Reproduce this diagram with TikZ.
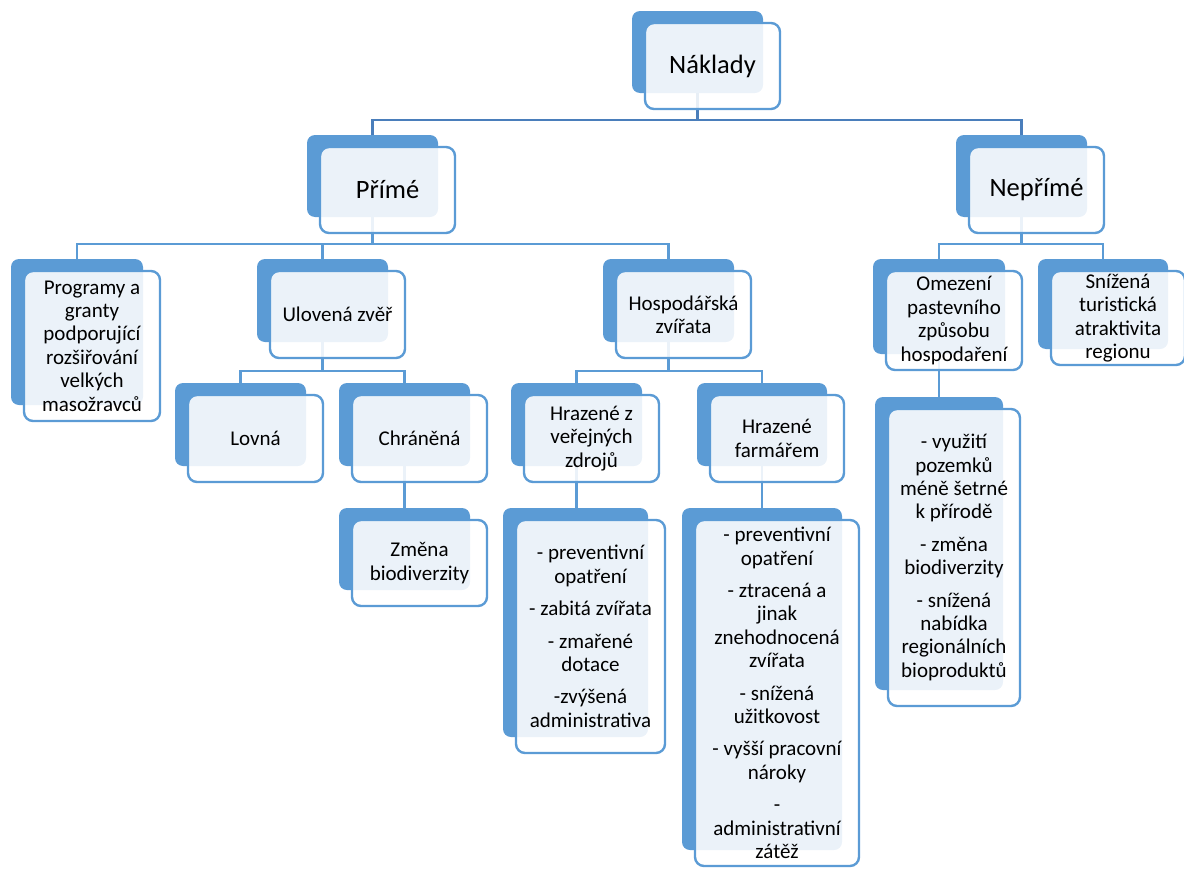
\documentclass[tikz,border=0pt]{standalone}
\usepackage{fontspec}
\setmainfont{Carlito}
\usetikzlibrary{calc,fit}
\definecolor{boxblue}{HTML}{5B9BD5}
\definecolor{linkblue}{HTML}{5B9BD5}
\definecolor{linkdark}{HTML}{4A7EBB}
\pgfdeclarelayer{backs}
\pgfdeclarelayer{links}
\pgfsetlayers{backs,links,main}
\tikzset{
  backbox/.style={rounded corners=8pt, fill=boxblue, inner sep=0pt},
  frontbox/.style={rounded corners=9pt, draw=boxblue, line width=2.4pt, fill=white,
    fill opacity=0.88, inner sep=0pt},
  smalltext/.style={inner sep=0pt, align=center, font=\fontsize{21}{23.4}\selectfont},
  bigtext/.style={inner sep=0pt, align=center, font=\fontsize{26.5}{30}\selectfont},
  link/.style={draw=linkblue, line width=2.4pt},
  toplink/.style={link, draw=linkdark},
}
% #1 text style, #2 name, #3 corner of dark box, #4 opposite corner, #5 text
\newcommand{\orgbox}[5][smalltext]{%
  \coordinate (#2-nw) at (#3);
  \coordinate (#2-se) at (#4);
  \begin{pgfonlayer}{backs}
    \node[backbox, fit=(#2-nw)(#2-se)] (#2-b) {};
  \end{pgfonlayer}
  \coordinate (#2-fnw) at ($(#2-nw)+(13,12)$);
  \coordinate (#2-fse) at ($(#2-se)+(17,16)$);
  \node[frontbox, fit=(#2-fnw)(#2-fse)] (#2) {};
  \node[#1] (#2-t) at (#2.center) {#5};
}
\begin{document}
\begin{tikzpicture}[x=1pt,y=-1pt]
\useasboundingbox (0,0) rectangle (1184,870);
% level 0
\orgbox[bigtext]{naklady}{632,11}{763,93}{Náklady}
% level 1
\orgbox[bigtext]{prime}{307,135}{438,217}{Přímé}
\orgbox[bigtext]{neprime}{956,135}{1087,217}{Nepřímé}
% level 2
\orgbox{programy}{11,259}{143,405}{Programy a\\granty\\podporující\\rozšiřování\\velkých\\masožravců}
\orgbox{ulovena}{257,259}{388,342}{Ulovená zvěř}
\orgbox{hospodarska}{603,259}{734,342}{Hospodářská\\zvířata}
\orgbox{omezeni}{873,259}{1005,354}{Omezení\\pastevního\\způsobu\\hospodaření}
\orgbox{snizena}{1038,259}{1168,349}{Snížená\\turistická\\atraktivita\\regionu}
% level 3
\orgbox{lovna}{175,383}{306,466}{Lovná}
\orgbox{chranena}{339,383}{470,466}{Chráněná}
\orgbox{verejne}{511,383}{642,466}{Hrazené z\\veřejných\\zdrojů}
\orgbox{farmar}{697,383}{827,466}{Hrazené\\farmářem}
\orgbox{omezenilist}{875,397}{1003,690}{- využití\\pozemků\\méně šetrné\\k přírodě\\[9pt]- změna\\biodiverzity\\[9pt]- snížená\\nabídka\\regionálních\\bioproduktů}
% level 4
\orgbox{zmena}{339,508}{470,590}{Změna\\biodiverzity}
\orgbox{verejnelist}{503,508}{648,737}{- preventivní\\opatření\\[9pt]- zabitá zvířata\\[9pt]- zmařené\\dotace\\[9pt]-zvýšená\\administrativa}
\orgbox{farmarlist}{682,508}{842,850}{- preventivní\\opatření\\[9pt]- ztracená a\\jinak\\znehodnocená\\zvířata\\[9pt]- snížená\\užitkovost\\[9pt]- vyšší pracovní\\nároky\\[9pt]-\\administrativní\\zátěž}
% connectors
\coordinate (bus-naklady) at (0,120);
\coordinate (bus-prime) at (0,244);
\coordinate (bus-ulovena) at (0,371);
\begin{pgfonlayer}{links}
\draw[toplink] (naklady-b.south) |- (prime-b.north |- bus-naklady) -- (prime-b.north);
\draw[toplink] (naklady-b.south) |- (neprime-b.north |- bus-naklady) -- (neprime-b.north);
\draw[link] (prime-b.south) |- (programy-b.north |- bus-prime) -- (programy-b.north);
\draw[link] (prime-b.south) |- (ulovena-b.north |- bus-prime) -- (ulovena-b.north);
\draw[link] (prime-b.south) |- (hospodarska-b.north |- bus-prime) -- (hospodarska-b.north);
\draw[link] (neprime-b.south) |- (omezeni-b.north |- bus-prime) -- (omezeni-b.north);
\draw[link] (neprime-b.south) |- (snizena-b.north |- bus-prime) -- (snizena-b.north);
\draw[link] (ulovena-b.south) |- (lovna-b.north |- bus-ulovena) -- (lovna-b.north);
\draw[link] (ulovena-b.south) |- (chranena-b.north |- bus-ulovena) -- (chranena-b.north);
\draw[link] (hospodarska-b.south) |- (verejne-b.north |- bus-ulovena) -- (verejne-b.north);
\draw[link] (hospodarska-b.south) |- (farmar-b.north |- bus-ulovena) -- (farmar-b.north);
\draw[link] (chranena-b.south) -- (zmena-b.north);
\draw[link] (verejne-b.south) -- (verejne-b.south |- verejnelist-b.north);
\draw[link] (farmar-b.south) -- (farmar-b.south |- farmarlist-b.north);
\draw[link] (omezeni-b.south) -- (omezeni-b.south |- omezenilist-b.north);
\end{pgfonlayer}
\end{tikzpicture}
\end{document}
